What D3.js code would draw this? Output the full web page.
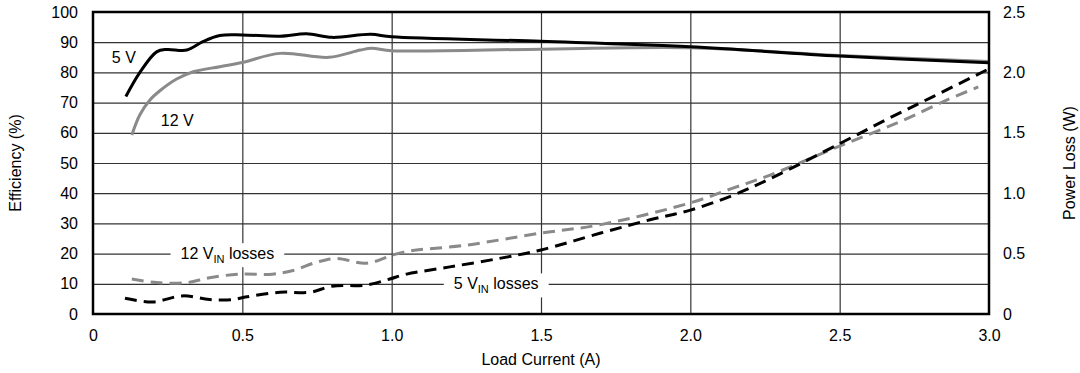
<!DOCTYPE html>
<html lang="en">
<head>
  <meta charset="UTF-8">
  <title>Efficiency and Power Loss vs Load Current</title>
  <script src="https://d3js.org/d3.v7.min.js"></script>
  <style>
    body { margin: 0; background: #fff; }
    svg text { font-family: 'Liberation Sans', Arial, sans-serif; fill: #000; }
    .tick-label { font-size: 16px; }
    .axis-title { font-size: 16px; }
    .note { font-size: 16px; }
  </style>
</head>
<body>
  <svg id="chart" width="1080" height="373"></svg>

  <script>
    // Efficiency curves (%)
    const current5Eff = [0.11, 0.157, 0.213, 0.247, 0.314, 0.368, 0.425, 0.5, 0.626, 0.715, 0.8, 0.93, 1.0, 1.5, 2.0, 2.5, 3.0];
    const eff5V = [72, 80, 86.8, 87.6, 87.4, 90.2, 92.2, 92.4, 92, 92.8, 91.6, 92.6, 91.8, 90.3, 88.5, 85.4, 83.2];

    const current12Eff = [0.13, 0.157, 0.19, 0.225, 0.28, 0.336, 0.425, 0.5, 0.626, 0.79, 0.895, 0.933, 1.0, 1.5, 2.0, 2.5, 3.0];
    const eff12V = [59.3, 66, 70.8, 74, 77.8, 80.2, 81.9, 83.3, 86.3, 85, 87.4, 88, 87.2, 87.7, 88.2, 85.6, 83.6];

    // Power loss curves (W)
    const current5Loss = [0.107, 0.2, 0.3, 0.39, 0.47, 0.51, 0.626, 0.727, 0.8, 0.916, 0.994, 1.05, 1.195, 1.36, 1.5, 1.7, 1.865, 2.0, 2.14, 2.267, 2.5, 2.657, 2.813, 2.992];
    const loss5V = [0.13, 0.10, 0.15, 0.12, 0.12, 0.14, 0.18, 0.18, 0.23, 0.24, 0.29, 0.33, 0.39, 0.46, 0.53, 0.67, 0.78, 0.86, 0.98, 1.12, 1.41, 1.61, 1.80, 2.02];

    const current12Loss = [0.13, 0.213, 0.314, 0.39, 0.49, 0.6, 0.67, 0.75, 0.815, 0.916, 1.005, 1.055, 1.25, 1.5, 1.7, 2.0, 2.14, 2.267, 2.5, 2.7, 2.858, 2.964];
    const loss12V = [0.29, 0.26, 0.26, 0.30, 0.33, 0.33, 0.36, 0.43, 0.46, 0.42, 0.49, 0.52, 0.57, 0.67, 0.74, 0.92, 1.04, 1.15, 1.39, 1.59, 1.77, 1.88];

    // Tick labels
    const xTicks = [0, 0.5, 1.0, 1.5, 2.0, 2.5, 3.0];
    const xTickLabels = ["0", "0.5", "1.0", "1.5", "2.0", "2.5", "3.0"];
    const effTicks = [0, 10, 20, 30, 40, 50, 60, 70, 80, 90, 100];
    const lossTicks = [0, 0.5, 1.0, 1.5, 2.0, 2.5];
    const lossTickLabels = ["0", "0.5", "1.0", "1.5", "2.0", "2.5"];

    const margin = { top: 12, right: 91, bottom: 59, left: 93 };
    const width = 1080 - margin.left - margin.right;
    const height = 373 - margin.top - margin.bottom;

    const svg = d3.select("#chart")
      .append("g")
      .attr("transform", `translate(${margin.left},${margin.top})`);

    const x = d3.scaleLinear().domain([0, 3]).range([0, width]);
    const yEff = d3.scaleLinear().domain([0, 100]).range([height, 0]);
    const yLoss = d3.scaleLinear().domain([0, 2.5]).range([height, 0]);

    // grid
    svg.append("g")
      .call(d3.axisBottom(x).tickValues(xTicks.slice(1, -1)).tickSize(-height).tickFormat(""))
      .attr("transform", `translate(0,${height})`)
      .call(g => g.select(".domain").remove())
      .selectAll("line").attr("stroke", "#333").attr("stroke-width", 1.2);

    svg.append("g")
      .call(d3.axisLeft(yEff).tickValues(effTicks.slice(1, -1)).tickSize(-width).tickFormat(""))
      .call(g => g.select(".domain").remove())
      .selectAll("line").attr("stroke", "#333").attr("stroke-width", 1.2);

    // tick labels
    const xAxis = svg.append("g")
      .attr("transform", `translate(0,${height})`)
      .call(d3.axisBottom(x).tickValues(xTicks).tickSize(0).tickPadding(16)
        .tickFormat((d, i) => xTickLabels[i]));
    const yAxisL = svg.append("g")
      .call(d3.axisLeft(yEff).tickValues(effTicks).tickSize(0).tickPadding(15));
    const yAxisR = svg.append("g")
      .attr("transform", `translate(${width},0)`)
      .call(d3.axisRight(yLoss).tickValues(lossTicks).tickSize(0).tickPadding(14)
        .tickFormat((d, i) => lossTickLabels[i]));
    [xAxis, yAxisL, yAxisR].forEach(a => {
      a.select(".domain").remove();
      a.selectAll("text").attr("class", "tick-label").attr("font-size", null).attr("font-family", null);
    });

    // annotations with white boxes
    function note(cx, cy, main, sub, rest) {
      const g = svg.append("g");
      const t = g.append("text").attr("class", "note")
        .attr("x", cx).attr("y", cy).attr("text-anchor", "middle").attr("dy", "0.35em");
      t.append("tspan").text(main);
      t.append("tspan").text(sub).attr("font-size", "11px").attr("dy", 4);
      t.append("tspan").text(rest).attr("dy", -4);
      const b = t.node().getBBox();
      g.insert("rect", "text")
        .attr("x", b.x - 10).attr("y", b.y - 2)
        .attr("width", b.width + 20).attr("height", b.height + 4)
        .attr("fill", "#fff");
    }
    note(x(0.45), yEff(20), "12 V", "IN", " losses");
    note(x(1.35), yEff(10), "5 V", "IN", " losses");

    svg.append("text").attr("class", "note").attr("x", x(0.063)).attr("y", yEff(85)).attr("dy", "0.35em").text("5 V");
    svg.append("text").attr("class", "note").attr("x", x(0.227)).attr("y", yEff(64)).attr("dy", "0.35em").text("12 V");

    // curves
    function drawLine(xs, ys, yScale, color, dashed) {
      const pts = xs.map((v, i) => [v, ys[i]]);
      svg.append("path")
        .datum(pts)
        .attr("fill", "none")
        .attr("stroke", color)
        .attr("stroke-width", 3)
        .attr("stroke-linejoin", "round")
        .attr("stroke-dasharray", dashed ? "12,7" : null)
        .attr("d", d3.line().x(d => x(d[0])).y(d => yScale(d[1])).curve(d3.curveCatmullRom.alpha(0.5)));
    }
    drawLine(current12Eff, eff12V, yEff, "#8a8a8a", false);
    drawLine(current5Eff, eff5V, yEff, "#000", false);
    drawLine(current12Loss, loss12V, yLoss, "#8a8a8a", true);
    drawLine(current5Loss, loss5V, yLoss, "#000", true);

    // frame
    svg.append("rect")
      .attr("width", width).attr("height", height)
      .attr("fill", "none").attr("stroke", "#000").attr("stroke-width", 2.5);

    // axis titles
    svg.append("text").attr("class", "axis-title")
      .attr("x", width / 2).attr("y", height + 51).attr("text-anchor", "middle")
      .text("Load Current (A)");
    svg.append("text").attr("class", "axis-title")
      .attr("transform", `translate(${-78},${height / 2}) rotate(-90)`)
      .attr("text-anchor", "middle").attr("dy", "0.35em")
      .text("Efficiency (%)");
    svg.append("text").attr("class", "axis-title")
      .attr("transform", `translate(${width + 80},${height / 2}) rotate(-90)`)
      .attr("text-anchor", "middle").attr("dy", "0.35em")
      .text("Power Loss (W)");
  </script>
</body>
</html>
